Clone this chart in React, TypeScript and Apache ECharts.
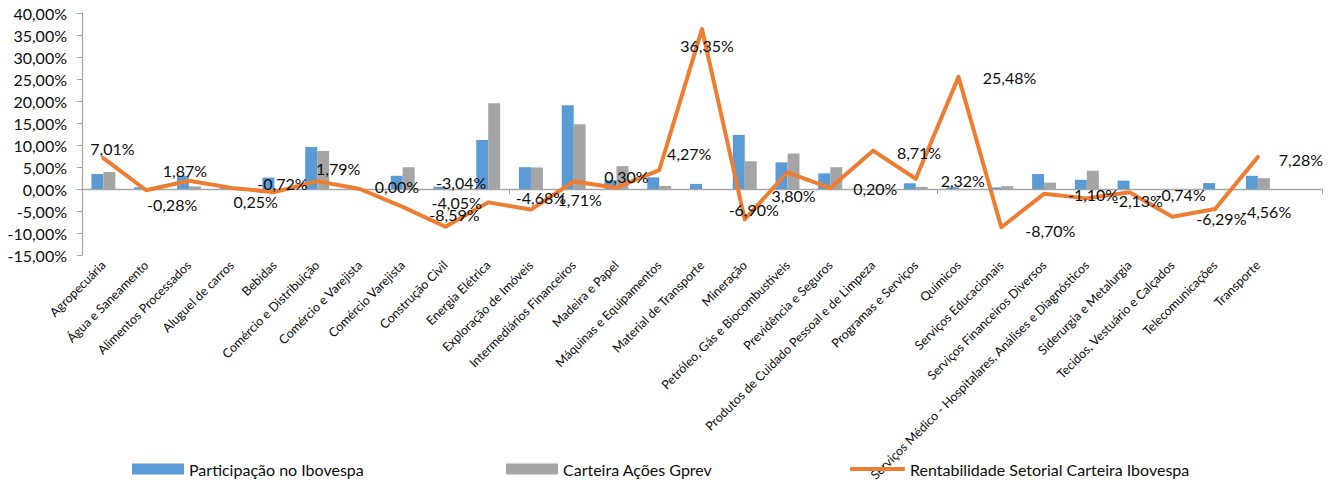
import React, { useEffect, useRef } from "react";
import * as echarts from "echarts";

const categories = [
  "Agropecuária",
  "Água e Saneamento",
  "Alimentos Processados",
  "Aluguel de carros",
  "Bebidas",
  "Comércio e Distribuição",
  "Comércio e Varejista",
  "Comércio Varejista",
  "Construção Civil",
  "Energia Elétrica",
  "Exploração de Imóveis",
  "Intermediários Financeiros",
  "Madeira e Papel",
  "Máquinas e Equipamentos",
  "Material de Transporte",
  "Mineração",
  "Petróleo, Gás e Biocombustíveis",
  "Previdência e Seguros",
  "Produtos de Cuidado Pessoal e de Limpeza",
  "Programas e Serviços",
  "Químicos",
  "Serviços Educacionais",
  "Serviços Financeiros Diversos",
  "Serviços Médico - Hospitalares, Análises e Diagnósticos",
  "Siderurgia e Metalurgia",
  "Tecidos, Vestuário e Calçados",
  "Telecomunicações",
  "Transporte",
  "",
];

const participacaoIbovespa = [
  3.4, 0.4, 3.0, 0.2, 2.6, 9.55, 0, 3.0, 0.5, 11.15, 4.95, 19.05, 2.0, 2.65,
  1.15, 12.3, 6.05, 3.55, 0, 1.3, 0.4, 0.35, 3.4, 2.1, 1.9, 0, 1.35, 3.0,
];

const carteiraGprev = [
  3.85, 0, 0.6, 0, 0, 8.65, 0, 4.95, 0, 19.5, 4.9, 14.7, 5.2, 0.7,
  0, 6.3, 8.05, 4.95, 0, 0.5, 0, 0.65, 1.45, 4.15, 0, 0, 0, 2.45,
];

const rentabilidade = [
  7.01, -0.28, 1.87, 0.25, -0.72, 1.79, 0.0, -4.05, -8.59, -3.04, -4.68, 1.71,
  0.3, 4.27, 36.35, -6.9, 3.8, 0.2, 8.71, 2.32, 25.48, -8.7, -1.1, -2.13,
  -0.74, -6.29, -4.56, 7.28,
];

const seriesNames = [
  "Participação no Ibovespa",
  "Carteira Ações Gprev",
  "Rentabilidade Setorial Carteira Ibovespa",
];

// label placement offsets (as in the original spreadsheet chart)
const labelOffsets: [number, number][] = [
  [9, -10], [26, 14], [-4, -10], [24, 14], [8, -9], [21, -13], [37, -3],
  [54, -4], [9, -12], [-27, -20], [10, -12], [6, 18], [10, -11], [30, -17],
  [5, 16], [9, -10], [6, 23], [45, 0], [46, 2], [47, 2], [51, 1], [49, 3],
  [49, 1], [51, 2], [51, 2], [49, 2], [51, 2], [43, 3],
];

const pct = (v: number) => v.toFixed(2).replace(".", ",") + "%";

const FONT = "Lato, 'Open Sans', sans-serif";
const TXT = "#0d0d0d";

export default function App() {
  const ref = useRef<HTMLDivElement>(null);

  useEffect(() => {
    if (!ref.current) return;
    const chart = echarts.init(ref.current, null, { renderer: "svg" });

    const lineData = rentabilidade.map((v, i) => ({
      value: v,
      label: { offset: labelOffsets[i] },
    }));

    const legendBase = {
      bottom: 1,
      itemWidth: 52,
      itemHeight: 11,
      itemGap: 0,
      textStyle: { fontFamily: FONT, fontSize: 16, color: TXT },
    };

    chart.setOption({
      animation: false,
      backgroundColor: "#ffffff",
      grid: {
        left: 82,
        right: 16,
        top: 13,
        bottom: 228,
        containLabel: false,
        outerBoundsMode: "none",
      },
      legend: [
        { ...legendBase, left: 127, data: [{ name: seriesNames[0], icon: "rect" }] },
        { ...legendBase, left: 501, data: [{ name: seriesNames[1], icon: "rect" }] },
        {
          ...legendBase,
          left: 845,
          itemWidth: 55,
          itemHeight: 4,
          data: [{ name: seriesNames[2], icon: "roundRect" }],
        },
      ],
      xAxis: [
        {
          type: "category",
          data: categories,
          axisLine: { onZero: true, lineStyle: { color: "#a6a6a6", width: 1.3 } },
          axisTick: { show: true, length: 5, lineStyle: { color: "#a6a6a6" } },
          axisLabel: { show: false },
        },
        {
          type: "category",
          data: categories,
          position: "bottom",
          axisLine: { show: false, onZero: false },
          axisTick: { show: false },
          axisLabel: {
            interval: 0,
            rotate: 45,
            margin: 8,
            fontFamily: FONT,
            fontSize: 12.5,
            color: TXT,
          },
        },
      ],
      yAxis: {
        type: "value",
        min: -15,
        max: 40,
        interval: 5,
        axisLine: { show: true, lineStyle: { color: "#a6a6a6", width: 1.3 } },
        axisTick: { show: true, length: 5, lineStyle: { color: "#a6a6a6" } },
        splitLine: { show: false },
        axisLabel: {
          formatter: (v: number) => pct(v),
          fontFamily: FONT,
          fontSize: 16,
          color: TXT,
          margin: 15,
        },
      },
      series: [
        {
          name: seriesNames[0],
          type: "bar",
          xAxisIndex: 0,
          data: participacaoIbovespa,
          itemStyle: { color: "#5b9bd5" },
          barGap: "0%",
          barCategoryGap: "44%",
          z: 2,
        },
        {
          name: seriesNames[1],
          type: "bar",
          xAxisIndex: 0,
          data: carteiraGprev,
          itemStyle: { color: "#a5a5a5" },
          barGap: "0%",
          barCategoryGap: "44%",
          z: 2,
        },
        {
          name: seriesNames[2],
          type: "line",
          xAxisIndex: 0,
          data: lineData,
          symbol: "circle",
          symbolSize: 2,
          showSymbol: true,
          itemStyle: { color: "#ed7d31" },
          lineStyle: { color: "#ed7d31", width: 4, join: "round", cap: "round" },
          z: 5,
          label: {
            show: true,
            position: "inside",
            formatter: (p: any) => pct(p.value),
            fontFamily: FONT,
            fontSize: 16,
            color: TXT,
          },
        },
      ],
    });

    return () => chart.dispose();
  }, []);

  return (
    <div
      ref={ref}
      style={{ position: "fixed", left: 0, top: 0, width: 1338, height: 483 }}
    />
  );
}
